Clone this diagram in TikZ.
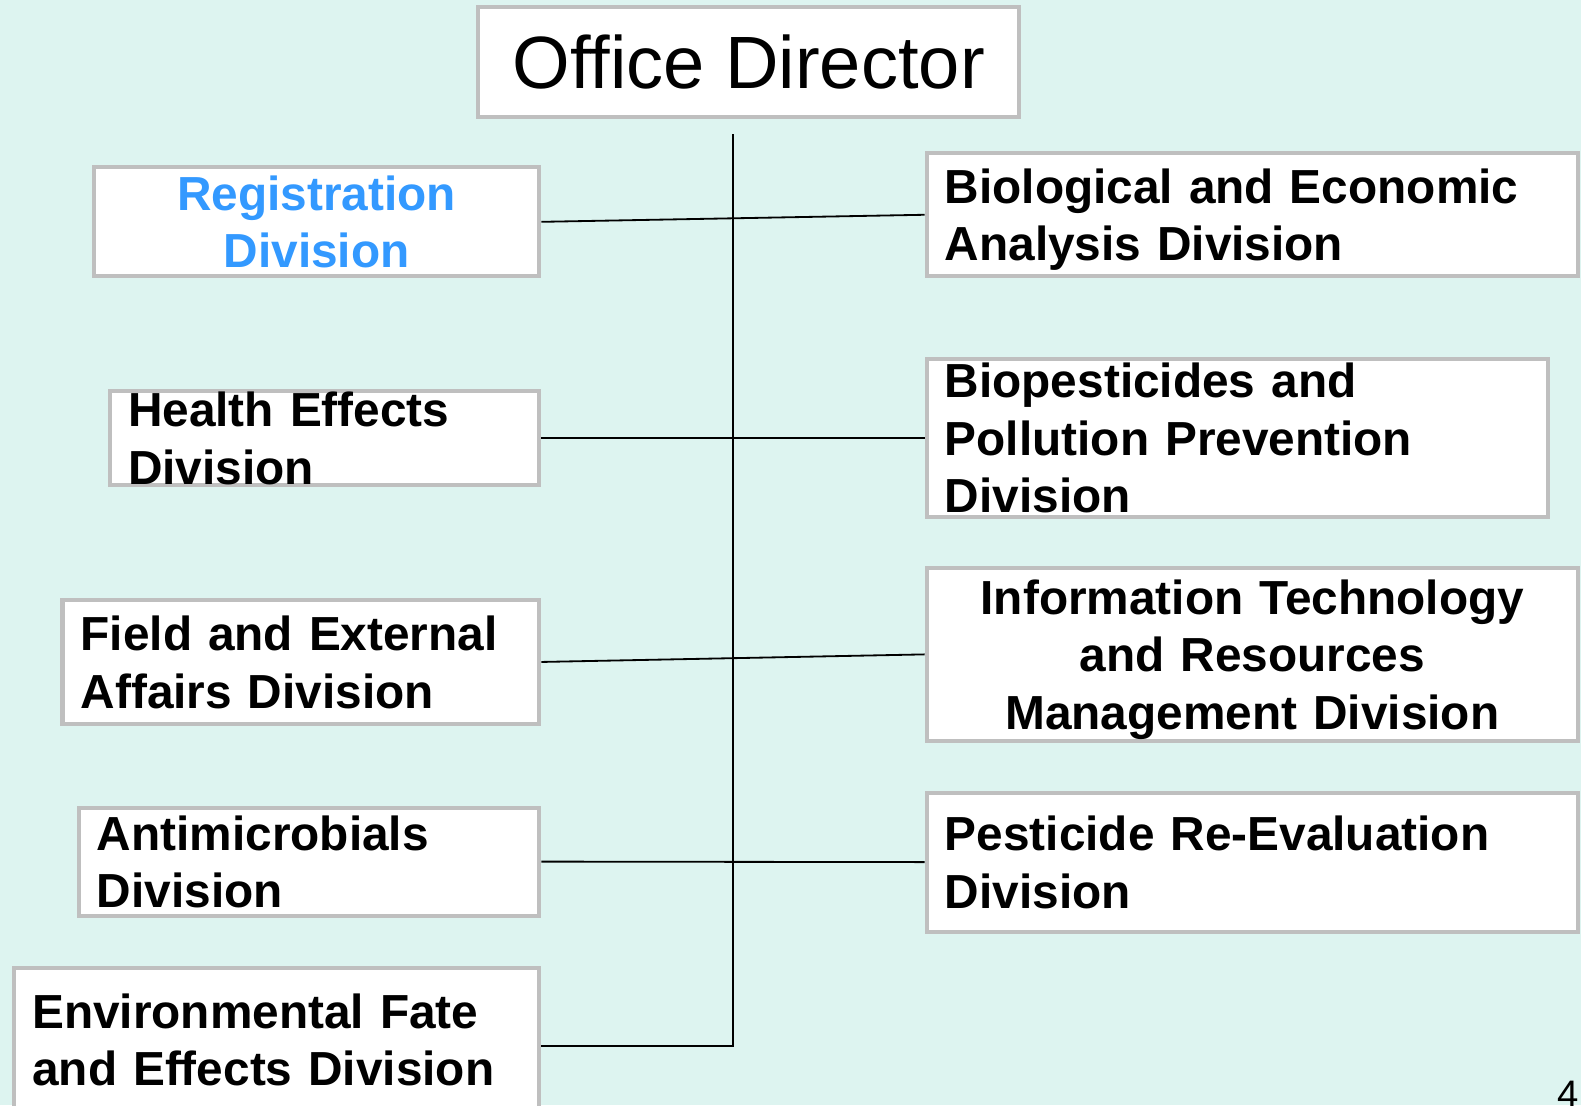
\documentclass[tikz,border=0pt]{standalone}
\usepackage{fontspec}
\setmainfont{Liberation Sans}
\usepackage{tikz}
\usetikzlibrary{positioning}
\definecolor{bgmint}{RGB}{221,244,240}
\definecolor{boxgray}{RGB}{191,191,191}
\definecolor{regblue}{RGB}{51,153,255}

\begin{document}
\begin{tikzpicture}[
    x=1pt, y=-1pt,
    division/.style={%
      draw=boxgray,
      line width=4pt,
      fill=white,
      rectangle,
      inner xsep=18pt,
      inner ysep=0pt,
      text depth=57pt,
      align=left,
      font=\fontsize{47.4}{57}\selectfont\bfseries,
    },
    office/.style={%
      draw=boxgray,
      line width=4pt,
      fill=white,
      rectangle,
      inner sep=0pt,
      text depth=0pt,
      font=\fontsize{73.5}{80}\selectfont,
    },
    link/.style={line width=1.8pt},
  ]

    \fill [bgmint] (0,0) rectangle (1568,1096);
    \useasboundingbox (0,0) rectangle (1568,1096);

    \node [office, minimum width=537pt, minimum height=109pt] (D) at (742.5,61.5) {Office Director};
    % left column
    \path (D) ++(-428.5,158.5) node [division, text width=406pt, minimum height=108pt, align=center, text=regblue] (R) {Registration\\Division};
    \path (R) ++(8,214.5) node [division, text width=390pt, minimum height=93pt] (H) {Health Effects\\Division};
    \path (H) ++(-23.5,222) node [division, text width=437pt, minimum height=123pt] (F) {Field and External\\Affairs Division};
    \path (F) ++(8,198) node [division, text width=421pt, minimum height=107pt] (A) {Antimicrobials\\Division};
    \path (A) ++(-32,176.5) node [division, text width=485pt, minimum height=142pt] (E) {Environmental Fate\\and Effects Division};
    % right column
    \path (D) ++(499.5,151.5) node [division, text width=610pt, minimum height=122pt] (B) {Biological and Economic\\Analysis Division};
    \path (B) ++(-15,221.5) node [division, text width=580pt, minimum height=157pt, text depth=114pt] (P) {Biopesticides and\\Pollution Prevention\\Division};
    \path (P) ++(15,214.5) node [division, text width=610pt, minimum height=172pt, text depth=114pt, align=center] (I) {Information Technology\\and Resources\\Management Division};
    \path (I) ++(0,206) node [division, text width=610pt, minimum height=138pt] (V) {Pesticide Re-Evaluation\\Division};

    \node [anchor=base west, inner sep=0pt, font=\fontsize{38}{40}\selectfont] (pg) at (1544,1098) {4};

    \coordinate (T) at (727,133);
    \coordinate (J) at (727,1037);

    \draw [link] (T) -- (J) -- (E.east |- J);
    \draw [link] (R.east) -- (B.west);
    \draw [link] (H.east) -- (P.west);
    \draw [link] (F.east) -- (I.west);
    \draw [link] (A.east) -- (V.west);
\end{tikzpicture}
\end{document}
